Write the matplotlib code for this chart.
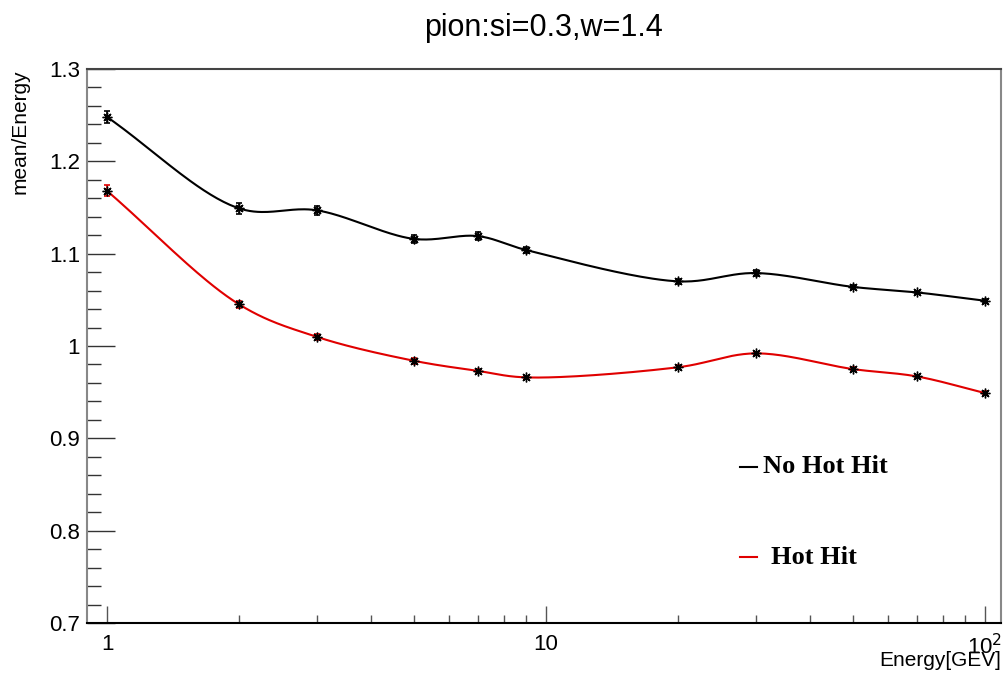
import numpy as np
import matplotlib.pyplot as plt
from matplotlib.ticker import FixedLocator, FixedFormatter, NullFormatter

energy = [1, 2, 3, 5, 7, 9, 20, 30, 50, 70, 100]
no_hot = [1.248, 1.149, 1.147, 1.116, 1.119, 1.104, 1.070, 1.079, 1.064, 1.058, 1.049]
no_hot_err = [0.007, 0.006, 0.005, 0.004, 0.004, 0.003, 0.003, 0.003, 0.002, 0.002, 0.002]
hot = [1.168, 1.045, 1.010, 0.984, 0.973, 0.966, 0.977, 0.992, 0.975, 0.967, 0.949]
hot_err = [0.006, 0.004, 0.003, 0.003, 0.002, 0.002, 0.002, 0.002, 0.002, 0.002, 0.002]

title = "pion:si=0.3,w=1.4"
labels = ["No Hot Hit", "Hot Hit"]
yticks = [0.7, 0.8, 0.9, 1.0, 1.1, 1.2, 1.3]
yticklabels = ["0.7", "0.8", "0.9", "1", "1.1", "1.2", "1.3"]


def smooth(x, y, n=40, sx=439.0, sy=923.0):
    # centripetal catmull-rom in screen-like space (log x), like ROOT "C"
    P = np.column_stack([np.log10(x) * sx, np.asarray(y, float) * sy])
    P = np.vstack([2 * P[0] - P[1], P, 2 * P[-1] - P[-2]])
    out = []
    for i in range(1, len(P) - 2):
        p0, p1, p2, p3 = P[i - 1], P[i], P[i + 1], P[i + 2]
        t0 = 0.0
        t1 = t0 + np.linalg.norm(p1 - p0) ** 0.5
        t2 = t1 + np.linalg.norm(p2 - p1) ** 0.5
        t3 = t2 + np.linalg.norm(p3 - p2) ** 0.5
        t = np.linspace(t1, t2, n)[:, None]
        a1 = (t1 - t) / (t1 - t0) * p0 + (t - t0) / (t1 - t0) * p1
        a2 = (t2 - t) / (t2 - t1) * p1 + (t - t1) / (t2 - t1) * p2
        a3 = (t3 - t) / (t3 - t2) * p2 + (t - t2) / (t3 - t2) * p3
        b1 = (t2 - t) / (t2 - t0) * a1 + (t - t0) / (t2 - t0) * a2
        b2 = (t3 - t) / (t3 - t1) * a2 + (t - t1) / (t3 - t1) * a3
        c = (t2 - t) / (t2 - t1) * b1 + (t - t1) / (t2 - t1) * b2
        out.append(c)
    out = np.vstack(out)
    return 10 ** (out[:, 0] / sx), out[:, 1] / sy


plt.rcParams['font.family'] = ['Liberation Sans', 'DejaVu Sans']
fig = plt.figure(figsize=(10.05, 6.76), dpi=100)
ax = fig.add_axes([87 / 1005, 1 - 623 / 676, 914 / 1005, 554 / 676])

for y, err, col in [(no_hot, no_hot_err, "black"), (hot, hot_err, "#e00000")]:
    sx, sy = smooth(energy, y)
    ax.plot(sx, sy, color=col, lw=1.5, zorder=2)
    ax.errorbar(energy, y, yerr=err, fmt="none", ecolor=col, elinewidth=1.2,
                capsize=2, capthick=1.2, zorder=3)
    ax.plot(energy, y, ls="none", marker=(8, 2, 0), ms=7, mec="black", mew=1.0, zorder=4)

ax.set_xscale("log")
ax.set_xlim(0.9, 108.7)
ax.set_ylim(0.7, 1.3)

ax.xaxis.set_major_locator(FixedLocator([1, 10, 100]))
ax.xaxis.set_major_formatter(FixedFormatter(["1", "10", "10$^{2}$"]))
minors = [m * d for d in [1, 10] for m in range(2, 10)]
ax.xaxis.set_minor_locator(FixedLocator(minors))
ax.xaxis.set_minor_formatter(NullFormatter())
ax.yaxis.set_major_locator(FixedLocator(yticks))
ax.yaxis.set_major_formatter(FixedFormatter(yticklabels))
ax.yaxis.set_minor_locator(FixedLocator(np.arange(0.72, 1.3, 0.02)))

ax.tick_params(axis="x", which="major", direction="in", length=12, width=1, color="#555555",
               labelsize=16, pad=8, top=False)
ax.tick_params(axis="x", which="minor", direction="in", length=6, width=1, color="#555555", top=False)
ax.tick_params(axis="y", which="major", direction="in", length=20, width=1, color="#333333",
               labelsize=16, pad=5, right=False)
ax.tick_params(axis="y", which="minor", direction="in", length=10, width=1, color="#333333", right=False)

for side, c in [("left", "#888888"), ("bottom", "black"), ("top", "#444444"), ("right", "#888888")]:
    ax.spines[side].set_color(c)
    ax.spines[side].set_linewidth(1.5)

ax.set_xlabel("Energy[GEV]", fontsize=15, loc="right", labelpad=-6)
ax.set_ylabel("mean/Energy", fontsize=15, loc="top", labelpad=14)
fig.text(543 / 1005, 1 - 28 / 676, title, fontsize=22, ha="center", va="center")

# legend drawn by hand
ax.plot([0.7144, 0.7330], [0.2816, 0.2816], color="black", lw=1.5, transform=ax.transAxes)
ax.text(0.7396, 0.2816, labels[0], transform=ax.transAxes, fontsize=19, fontweight="bold",
        family="Liberation Serif", va="center", ha="left")
ax.plot([0.7144, 0.7330], [0.119, 0.119], color="#e00000", lw=1.5, transform=ax.transAxes)
ax.text(0.748, 0.119, labels[1], transform=ax.transAxes, fontsize=19, fontweight="bold",
        family="Liberation Serif", va="center", ha="left")

fig.savefig("out.png", dpi=100)
